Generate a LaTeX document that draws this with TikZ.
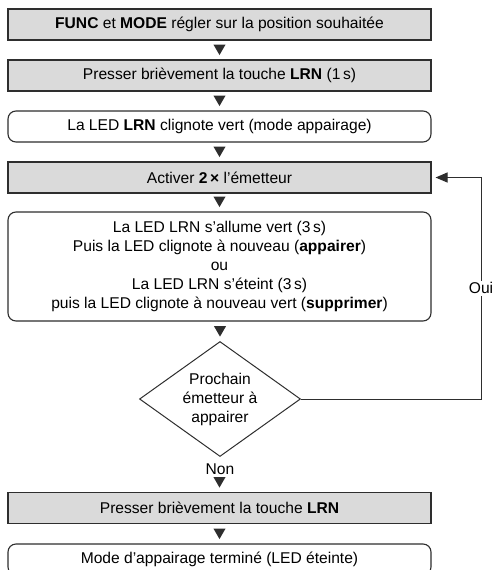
\documentclass[tikz,border=0pt]{standalone}
\usepackage{fontspec}
\setmainfont{Liberation Sans}
\usetikzlibrary{shapes.geometric,shapes.misc,arrows.meta}
\definecolor{linec}{HTML}{2E2E2E}
\definecolor{boxg}{HTML}{DADADA}
\begin{document}
\begin{tikzpicture}[x=1pt,y=-1pt,
  font=\fontsize{15.6}{19}\selectfont,
  box/.style={draw=linec, line width=1.1pt, minimum width=423pt, inner sep=0pt, align=center, text=black},
  greybox/.style={box, fill=boxg, minimum height=31pt},
  roundbox/.style={box, fill=white, rounded corners=8pt, minimum height=31pt},
  decision/.style={diamond, draw=linec, line width=1pt, fill=white, aspect=1.4, inner sep=0pt,
    minimum width=161pt, minimum height=115pt, align=center},
  tri/.style={regular polygon, regular polygon sides=3, shape border rotate=180, fill=linec,
    minimum size=14pt, inner sep=0pt, anchor=corner 1, yshift=4pt},
  loopline/.style={draw=linec, line width=1pt, -{Triangle[length=12pt,width=10pt]}, shorten >=4pt},
  lbl/.style={fill=white, inner sep=2pt}
]
\useasboundingbox (0,0) rectangle (493,570);

\node[greybox] (b1) at (219.5,24.5) {\textbf{FUNC} et \textbf{MODE} régler sur la position souhaitée};
\node[greybox] (b2) at (219.5,75.5) {Presser brièvement la touche \textbf{LRN} (1\,s)};
\node[roundbox] (b3) at (219.5,126.5) {La LED \textbf{LRN} clignote vert (mode appairage)};
\node[greybox] (b4) at (219.5,177.5) {Activer \textbf{2\,×} l’émetteur};
\node[roundbox, minimum height=109pt] (b5) at (219.5,266.5) {La LED LRN s’allume vert (3\,s)\\
  Puis la LED clignote à nouveau (\textbf{appairer})\\
  ou\\
  La LED LRN s’éteint (3\,s)\\
  puis la LED clignote à nouveau vert (\textbf{supprimer})};
\node[decision] (d) at (220,399) {Prochain\\émetteur à\\appairer};
\node[greybox] (b6) at (219.5,508) {Presser brièvement la touche \textbf{LRN}};
\node[roundbox] (b7) at (219.5,559.5) {Mode d’appairage terminé (LED éteinte)};

\path (b1.south) -- node[tri, pos=1] {} (b2.north);
\path (b2.south) -- node[tri, pos=1] {} (b3.north);
\path (b3.south) -- node[tri, pos=1] {} (b4.north);
\path (b4.south) -- node[tri, pos=1] {} (b5.north);
\path (b5.south) -- node[tri, pos=1] {} (d.north);
\path (d.south) -- node[tri, pos=1] {} (b6.north);
\node (non) at (220,469) {Non};
\path (b6.south) -- node[tri, pos=1] {} (b7.north);

\coordinate (lp) at (481,399);
\draw[loopline] (d.east) -- (lp) |- node[lbl, pos=0.25] {Oui} (b4.east);
\end{tikzpicture}
\end{document}
